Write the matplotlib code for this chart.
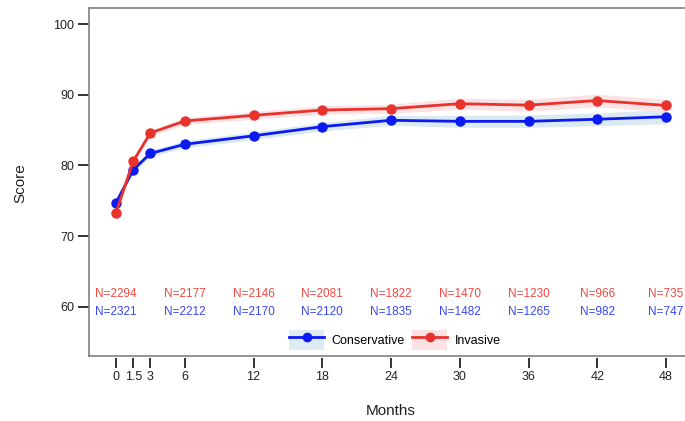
import matplotlib
matplotlib.use("Agg")
import matplotlib.pyplot as plt
from matplotlib.lines import Line2D
from matplotlib.patches import Patch
from matplotlib.legend_handler import HandlerTuple

plt.rcParams["font.family"] = ["Liberation Sans", "DejaVu Sans"]

months = [0, 1.5, 3, 6, 12, 18, 24, 30, 36, 42, 48]
tick_labels = ["0", "1.5", "3", "6", "12", "18", "24", "30", "36", "42", "48"]

conservative = [74.7, 79.4, 81.7, 83.0, 84.2, 85.5, 86.4, 86.25, 86.25, 86.55, 86.9]
conservative_lo = [74.3, 79.0, 81.25, 82.5, 83.65, 84.9, 85.7, 85.4, 85.4, 85.65, 85.9]
conservative_hi = [75.1, 79.8, 82.15, 83.5, 84.75, 86.1, 87.1, 87.1, 87.15, 87.45, 87.9]

invasive = [73.3, 80.6, 84.6, 86.3, 87.1, 87.85, 88.05, 88.75, 88.55, 89.2, 88.5]
invasive_lo = [72.9, 80.2, 84.15, 85.8, 86.55, 87.25, 87.4, 87.95, 87.7, 88.3, 87.6]
invasive_hi = [73.7, 81.0, 85.05, 86.8, 87.65, 88.45, 88.7, 89.55, 89.4, 90.1, 89.4]

n_months = [0, 6, 12, 18, 24, 30, 36, 42, 48]
n_invasive = [2294, 2177, 2146, 2081, 1822, 1470, 1230, 966, 735]
n_conservative = [2321, 2212, 2170, 2120, 1835, 1482, 1265, 982, 747]

blue = "#0a1af0"
red = "#e8322b"
blue_band = "#dae9f2"
red_band = "#fbe0e3"

fig = plt.figure(figsize=(6.85, 4.21), dpi=100)
ax = fig.add_axes([89.3 / 685, 1 - 356 / 421, (705 - 89.3) / 685, (356 - 8.3) / 421])

ax.fill_between(months, conservative_lo, conservative_hi, color=blue_band, lw=0)
ax.fill_between(months, invasive_lo, invasive_hi, color=red_band, alpha=0.9, lw=0)
ax.plot(months, conservative, color=blue, lw=2.0, marker="o", ms=6.5, zorder=3)
ax.plot(months, invasive, color=red, lw=2.0, marker="o", ms=6.5, zorder=3)

for m, ni, nc in zip(n_months, n_invasive, n_conservative):
    ax.text(m, 61.85, f"N={ni}", color="#ee4a44", fontsize=8.5, ha="center", va="center")
    ax.text(m, 59.3, f"N={nc}", color="#3848f2", fontsize=8.5, ha="center", va="center")

ax.set_xlim(-2.33, 51.4)
ax.set_ylim(53.0, 102.27)
ax.set_yticks([60, 70, 80, 90, 100])
ax.tick_params(axis="y", direction="out", length=8, width=1.4, color="#333333",
               labelsize=9, labelcolor="#222222", pad=3)
ax.set_xticks([])
for side in ["left", "top", "bottom"]:
    ax.spines[side].set_color("#808080")
    ax.spines[side].set_linewidth(1.2)
ax.spines["right"].set_visible(False)

sec = ax.secondary_xaxis(-0.005)
sec.set_xticks(months)
sec.set_xticklabels(tick_labels)
for s in sec.spines.values():
    s.set_visible(False)
sec.tick_params(direction="out", length=7.2, width=1.4, color="#333333",
                labelsize=9, labelcolor="#222222", pad=2)

fig.text(20 / 685, 1 - 183 / 421, "Score", rotation=90, fontsize=11,
         ha="center", va="center", color="#222222")
fig.text(391 / 685, 1 - 411 / 421, "Months", fontsize=11,
         ha="center", va="center", color="#222222")

handles = [
    (Patch(facecolor="#deebf3", edgecolor="none"),
     Line2D([], [], color=blue, lw=2.0, marker="o", ms=6)),
    (Patch(facecolor="#fbe2e5", edgecolor="none"),
     Line2D([], [], color=red, lw=2.0, marker="o", ms=6)),
]
ax.legend(handles, ["Conservative", "Invasive"], ncol=2, frameon=False,
          handler_map={tuple: HandlerTuple(ndivide=1, pad=0)},
          loc="center", bbox_to_anchor=(395 / 685, 1 - 340 / 421),
          bbox_transform=fig.transFigure, fontsize=9, handlelength=2.8,
          handleheight=2.0, handletextpad=0.6, columnspacing=0.6,
          borderaxespad=0, borderpad=0)

fig.savefig("out.png", dpi=100, facecolor="white")
